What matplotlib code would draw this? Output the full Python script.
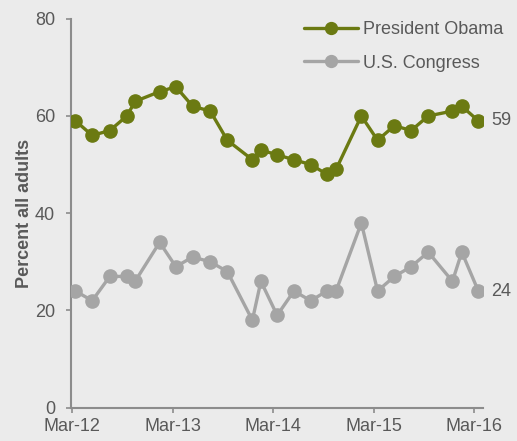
import matplotlib
matplotlib.use("Agg")
import matplotlib.pyplot as plt
import pandas as pd

dates = ['2012-03-12', '2012-05-12', '2012-07-15', '2012-09-15', '2012-10-15',
         '2013-01-12', '2013-03-12', '2013-05-12', '2013-07-15', '2013-09-15',
         '2013-12-15', '2014-01-15', '2014-03-15', '2014-05-15', '2014-07-15',
         '2014-09-12', '2014-10-15', '2015-01-15', '2015-03-15', '2015-05-15',
         '2015-07-15', '2015-09-15', '2015-12-12', '2016-01-15', '2016-03-15']
obama = [59, 56, 57, 60, 63, 65, 66, 62, 61, 55, 51, 53, 52, 51, 50, 48, 49,
         60, 55, 58, 57, 60, 61, 62, 59]
congress = [24, 22, 27, 27, 26, 34, 29, 31, 30, 28, 18, 26, 19, 24, 22, 24, 24,
            38, 24, 27, 29, 32, 26, 32, 24]
tick_dates = ['2012-03-01', '2013-03-01', '2014-03-01', '2015-03-01', '2016-03-01']
tick_labels = ['Mar-12', 'Mar-13', 'Mar-14', 'Mar-15', 'Mar-16']
y_ticks = [0, 20, 40, 60, 80]
series_names = ['President Obama', 'U.S. Congress']

plt.rcParams['font.family'] = ['Liberation Sans', 'DejaVu Sans']

bg = '#ebebeb'
text_c = '#595959'
spine_c = '#8c8c8c'
olive = '#6b7a12'
grey = '#a5a5a5'

x = pd.to_datetime(dates)
fig = plt.figure(figsize=(5.17, 4.41), dpi=100, facecolor=bg)
ax = fig.add_axes([71/517, 1 - 407.7/441, (483 - 71)/517, (407.7 - 18.7)/441])
ax.set_facecolor(bg)

ax.plot(x, obama, color=olive, lw=2.4, marker='o', ms=9.5, label=series_names[0],
        solid_capstyle='round', zorder=3)
ax.plot(x, congress, color=grey, lw=2.4, marker='o', ms=9.5, label=series_names[1],
        solid_capstyle='round', zorder=3)

ax.annotate(str(obama[-1]), (x[-1], obama[-1]), xytext=(9, 0), textcoords='offset points',
            va='center', ha='left', fontsize=13, color=text_c)
ax.annotate(str(congress[-1]), (x[-1], congress[-1]), xytext=(9, 0), textcoords='offset points',
            va='center', ha='left', fontsize=13, color=text_c)

ax.set_xlim(pd.Timestamp('2012-02-25'), pd.Timestamp('2016-04-01'))
ax.set_ylim(0, 80)
ax.set_xticks(pd.to_datetime(tick_dates))
ax.set_xticklabels(tick_labels)
ax.set_yticks(y_ticks)

for s in ['top', 'right']:
    ax.spines[s].set_visible(False)
for s in ['left', 'bottom']:
    ax.spines[s].set_color(spine_c)
    ax.spines[s].set_linewidth(1.5)
ax.tick_params(axis='both', colors=spine_c, labelcolor=text_c, labelsize=13,
               length=3.5, width=1.2, direction='out')
ax.tick_params(axis='y', pad=8)
ax.tick_params(axis='x', pad=4)

ax.set_ylabel('Percent all adults', fontsize=13, fontweight='bold', color=text_c, labelpad=1)

leg = ax.legend(loc='upper right', bbox_to_anchor=(1.088, 1.035), frameon=False,
                fontsize=13, handlelength=3.0, handletextpad=0.25, labelspacing=0.9,
                markerscale=0.9)
for t in leg.get_texts():
    t.set_color(text_c)

fig.savefig('out.png', dpi=100, facecolor=bg)
